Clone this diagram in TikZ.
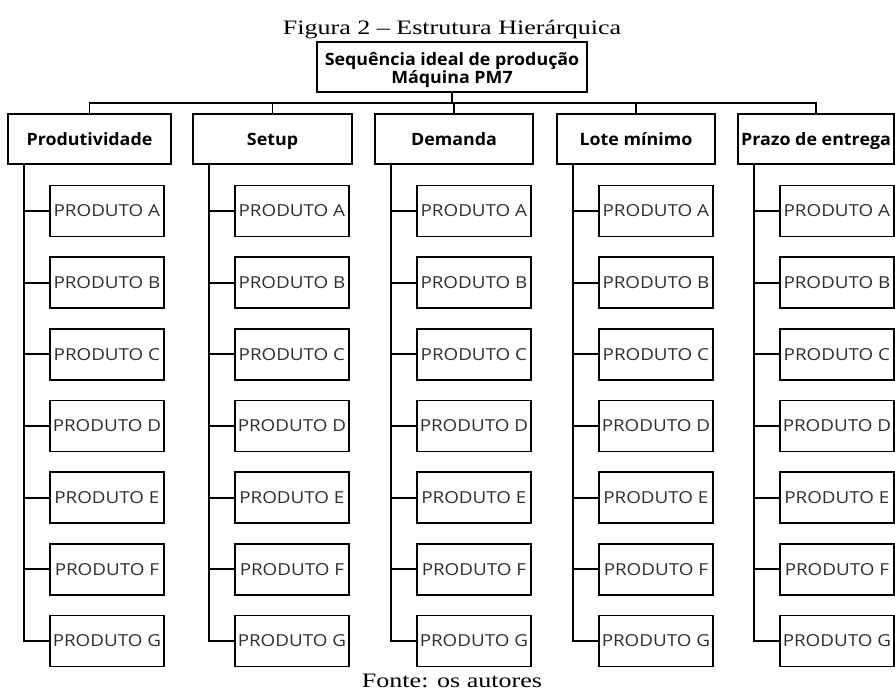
\documentclass[tikz,border=0pt]{standalone}
\usepackage{fontspec}
\setmainfont{Liberation Serif}
\newfontfamily\capfont[FakeStretch=1.27]{Liberation Serif}
\newfontfamily\headfont[FakeStretch=1.05]{Open Sans}
\newfontfamily\prodfont[FakeStretch=1.14]{Open Sans}
\begin{document}
\begin{tikzpicture}[x=1pt,y=-1pt, line width=1.8pt,
  box/.style={draw, inner sep=0pt},
  catbox/.style={box, minimum height=50pt, text height=12.3pt, text depth=0pt,
    font=\headfont\bfseries\fontsize{17}{17}\selectfont},
  prodbox/.style={box, minimum width=114pt, minimum height=51pt, anchor=west,
    text height=11.7pt, text depth=0pt, text=black!82,
    font=\prodfont\fontsize{16.5}{16.5}\selectfont},
  caption/.style={anchor=base, font=\capfont\fontsize{20.5}{20.5}\selectfont},
  link/.style={line width=1.8pt}]
\useasboundingbox (0,0) rectangle (895,695);
\node[caption] (title) at (452,35) {Figura 2 – Estrutura Hierárquica};
\node[box, minimum width=270pt, minimum height=50pt, align=center,
      text height=36pt, text depth=2.6pt,
      font=\headfont\bfseries\fontsize{17}{16.7}\selectfont] (root) at (452,67)
      {Sequência ideal de produção\\Máquina PM7};
\coordinate (bus) at (452,103);
\foreach \i/\cx/\w/\t in {1/89.5/163/Produtividade, 2/272.5/159/Setup, 3/454/158/Demanda, 4/636/158/Lote mínimo, 5/816/156/Prazo de entrega}{
  \node[catbox, minimum width=\w pt] (c\i) at (\cx,139) {\t};
  \draw[link] (root.south) -- (bus) -| (c\i.north);
  \coordinate (v\i) at ({\cx-\w/2+16},164);
  \foreach \n [count=\k from 0] in {A,B,C,D,E,F,G}{
    \node[prodbox] (p\i\n) at ({\cx-\w/2+41},{211+71.67*\k}) {PRODUTO \n};
    \draw[link] (v\i) |- (p\i\n.west);
  }
}
\node[caption] (fonte) at (452,687) {Fonte: os autores};
\end{tikzpicture}
\end{document}
